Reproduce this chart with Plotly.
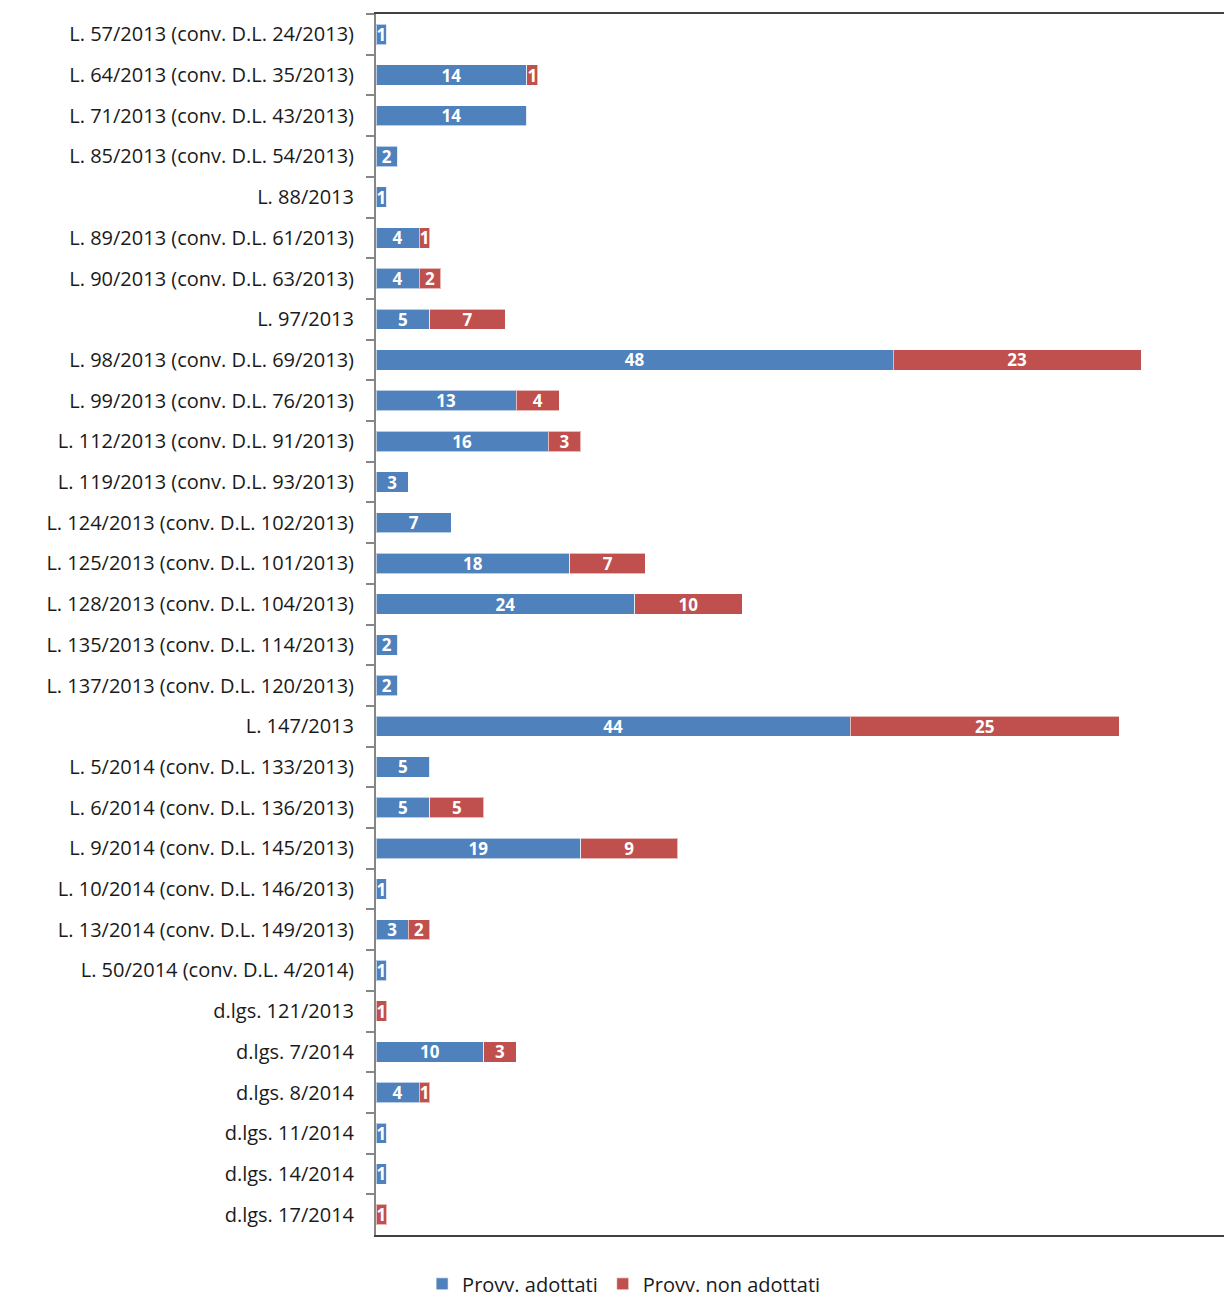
import plotly.graph_objects as go

# provvedimenti (asse verticale, dall'alto verso il basso)
categories = [
    "L. 57/2013 (conv. D.L. 24/2013)",
    "L. 64/2013 (conv. D.L. 35/2013)",
    "L. 71/2013 (conv. D.L. 43/2013)",
    "L. 85/2013 (conv. D.L. 54/2013)",
    "L. 88/2013",
    "L. 89/2013 (conv. D.L. 61/2013)",
    "L. 90/2013 (conv. D.L. 63/2013)",
    "L. 97/2013",
    "L. 98/2013 (conv. D.L. 69/2013)",
    "L. 99/2013 (conv. D.L. 76/2013)",
    "L. 112/2013 (conv. D.L. 91/2013)",
    "L. 119/2013 (conv. D.L. 93/2013)",
    "L. 124/2013 (conv. D.L. 102/2013)",
    "L. 125/2013 (conv. D.L. 101/2013)",
    "L. 128/2013 (conv. D.L. 104/2013)",
    "L. 135/2013 (conv. D.L. 114/2013)",
    "L. 137/2013 (conv. D.L. 120/2013)",
    "L. 147/2013",
    "L. 5/2014 (conv. D.L. 133/2013)",
    "L. 6/2014 (conv. D.L. 136/2013)",
    "L. 9/2014 (conv. D.L. 145/2013)",
    "L. 10/2014 (conv. D.L. 146/2013)",
    "L. 13/2014 (conv. D.L. 149/2013)",
    "L. 50/2014 (conv. D.L. 4/2014)",
    "d.lgs. 121/2013",
    "d.lgs. 7/2014",
    "d.lgs. 8/2014",
    "d.lgs. 11/2014",
    "d.lgs. 14/2014",
    "d.lgs. 17/2014",
]

adottati = [1, 14, 14, 2, 1, 4, 4, 5, 48, 13, 16, 3, 7, 18, 24,
            2, 2, 44, 5, 5, 19, 1, 3, 1, 0, 10, 4, 1, 1, 0]
non_adottati = [0, 1, 0, 0, 0, 1, 2, 7, 23, 4, 3, 0, 0, 7, 10,
                0, 0, 25, 0, 5, 9, 0, 2, 0, 1, 3, 1, 0, 0, 1]

BLUE = "#4F81BD"
RED = "#C0504D"
FONT = "Open Sans"


def labels(vals):
    # niente etichetta per i valori nulli
    return [str(v) if v else "" for v in vals]


fig = go.Figure()

for name, vals, color in [
    ("Provv. adottati", adottati, BLUE),
    ("Provv. non adottati", non_adottati, RED),
]:
    fig.add_trace(
        go.Bar(
            y=categories,
            x=vals,
            name=name,
            orientation="h",
            marker=dict(color=color, line=dict(color="rgba(255,255,255,0.6)", width=1)),
            text=labels(vals),
            textposition="inside",
            insidetextanchor="middle",
            textangle=0,
            textfont=dict(color="white", size=17, family=FONT, weight="bold"),
            cliponaxis=False,
        )
    )

fig.update_layout(
    barmode="stack",
    bargap=0.5,
    width=1224,
    height=1313,
    margin=dict(l=376, r=0, t=14, b=78),
    paper_bgcolor="white",
    plot_bgcolor="white",
    uniformtext=dict(minsize=17, mode="show"),
    font=dict(family=FONT, color="#1a1a1a"),
    xaxis=dict(
        range=[0, 78.7],
        showticklabels=False,
        showgrid=False,
        zeroline=False,
        ticks="",
        showline=True,
        linecolor="#404040",
        linewidth=2,
        mirror=True,
        fixedrange=True,
    ),
    yaxis=dict(
        autorange="reversed",
        tickson="boundaries",
        ticks="outside",
        ticklen=8,
        tickcolor="#868686",
        tickwidth=2,
        showline=True,
        linecolor="#868686",
        linewidth=2,
        showgrid=False,
        tickfont=dict(size=20, family=FONT, color="#1a1a1a"),
        ticklabelstandoff=16,
    ),
    legend=dict(
        orientation="h",
        x=0.292,
        xanchor="center",
        y=-0.04,
        yanchor="middle",
        font=dict(size=20, family=FONT, color="#1a1a1a"),
        itemwidth=30,
        traceorder="normal",
    ),
)

# niente margine di pagina, il grafico occupa tutta la finestra
fig.write_html(
    "out.html",
    config={"displayModeBar": False},
    post_script="document.body.style.margin='0';document.body.style.overflow='hidden';",
)
